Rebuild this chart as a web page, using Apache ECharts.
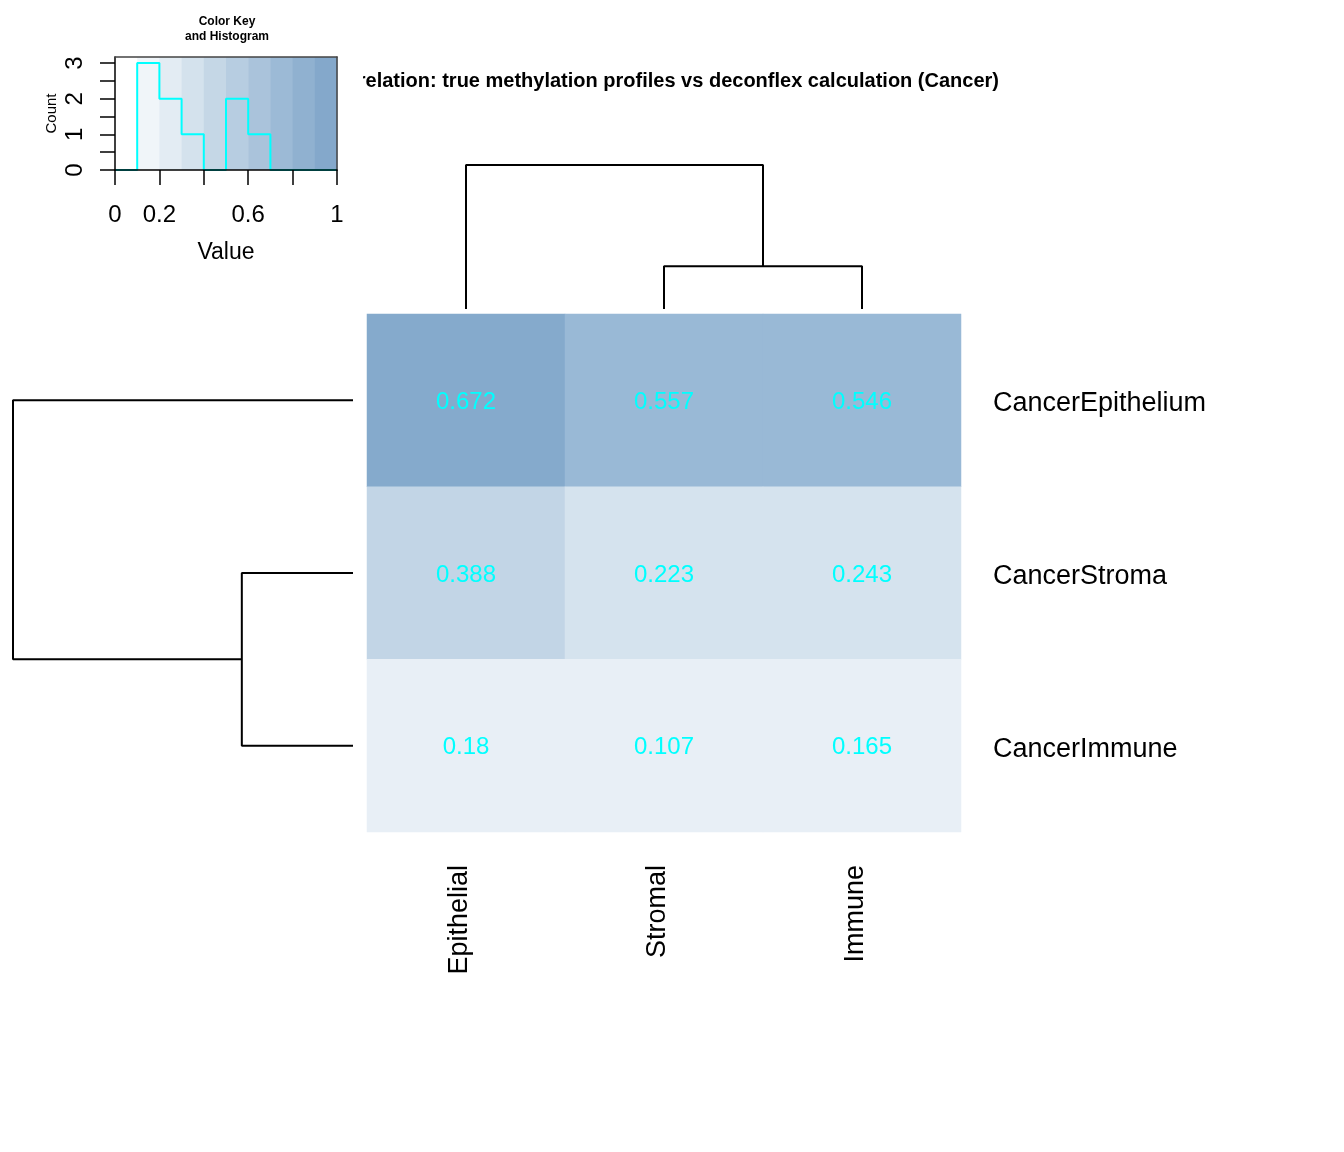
<!DOCTYPE html>
<html>
<head>
<meta charset="utf-8">
<script src="https://cdn.jsdelivr.net/npm/echarts@6/dist/echarts.min.js"></script>
<style>
  html, body { margin: 0; padding: 0; background: #fff; }
  #chart { width: 1344px; height: 1152px; }
</style>
</head>
<body>
<div id="chart"></div>
<script>
var FONT = '"Liberation Sans", Arial, Helvetica, sans-serif';

// heatmap values, one array per row
var rowNames = ['CancerEpithelium', 'CancerStroma', 'CancerImmune'];
var colNames = ['Epithelial', 'Stromal', 'Immune'];
var corEpithelium = [0.672, 0.557, 0.546];
var corStroma = [0.388, 0.223, 0.243];
var corImmune = [0.18, 0.107, 0.165];

// dendrograms, hclust style (negative = leaf), heights relative to root
var colMerge = [[-2, -3], [-1, 1]];
var colHeight = [0.297, 1];
var rowMerge = [[-2, -3], [-1, 1]];
var rowHeight = [0.327, 1];

// color key + histogram
var keyBreaks = [0, 0.1, 0.2, 0.3, 0.4, 0.5, 0.6, 0.7, 0.8, 0.9, 1];
var keyColors = ['#FFFFFF', '#F0F5F9', '#E3ECF3', '#D4E2ED', '#C5D7E6',
                 '#B7CDE1', '#AAC3DB', '#9CBAD6', '#90B1D0', '#84A8CB'];
var keyCounts = [0, 3, 2, 1, 0, 2, 1, 0, 0, 0];
var keyXTicks = [0, 0.2, 0.4, 0.6, 0.8, 1];
var keyXLabels = [0, 0.2, 0.6, 1];
var keyYTicks = [0, 0.5, 1, 1.5, 2, 2.5, 3];
var keyYLabels = [0, 1, 2, 3];

var chart = echarts.init(document.getElementById('chart'));

var rows = [corEpithelium, corStroma, corImmune];
var heatData = [];
rows.forEach(function (r, i) {
  r.forEach(function (v, j) {
    heatData.push([j, i, v]);
  });
});

function dendroLines(merge, height) {
  var node = [];
  var lines = [];
  merge.forEach(function (m, k) {
    var kids = m.map(function (c) {
      return c < 0 ? { pos: -c - 0.5, h: 0 } : node[c - 1];
    });
    var hk = height[k];
    lines.push([[kids[0].pos, kids[0].h], [kids[0].pos, hk], [kids[1].pos, hk], [kids[1].pos, kids[1].h]]);
    node.push({ pos: (kids[0].pos + kids[1].pos) / 2, h: hk });
  });
  return lines;
}

var series = [];

series.push({
  type: 'heatmap',
  xAxisIndex: 0,
  yAxisIndex: 0,
  data: heatData,
  itemStyle: { borderWidth: 0 },
  label: {
    show: true,
    color: '#00FFFF',
    fontSize: 24,
    fontFamily: FONT,
    offset: [0, 2],
    formatter: function (p) { return String(p.value[2]); }
  },
  emphasis: { disabled: true }
});

dendroLines(colMerge, colHeight).forEach(function (pts) {
  series.push({
    type: 'line', xAxisIndex: 1, yAxisIndex: 1, data: pts,
    symbol: 'none', clip: false, silent: true,
    lineStyle: { color: '#000', width: 2 }
  });
});

dendroLines(rowMerge, rowHeight).forEach(function (pts) {
  series.push({
    type: 'line', xAxisIndex: 2, yAxisIndex: 2,
    data: pts.map(function (p) { return [p[1], p[0]]; }),
    symbol: 'none', clip: false, silent: true,
    lineStyle: { color: '#000', width: 2 }
  });
});

// key colour bands
var bandData = keyColors.map(function (c, i) { return [keyBreaks[i], keyBreaks[i + 1], i]; });
series.push({
  type: 'custom',
  xAxisIndex: 3,
  yAxisIndex: 3,
  data: bandData,
  silent: true,
  renderItem: function (params, api) {
    var p0 = api.coord([api.value(0), 0]);
    var p1 = api.coord([api.value(1), 3.17]);
    return {
      type: 'rect',
      shape: { x: p0[0], y: p1[1], width: p1[0] - p0[0] + 0.5, height: p0[1] - p1[1] },
      style: { fill: keyColors[api.value(2)] }
    };
  }
});

// histogram step line
var histData = keyCounts.map(function (c, i) { return [keyBreaks[i], c]; });
histData.push([1, 0]);
series.push({
  type: 'line',
  xAxisIndex: 3,
  yAxisIndex: 3,
  data: histData,
  step: 'end',
  symbol: 'none',
  clip: false,
  silent: true,
  z: 5,
  lineStyle: { color: '#00FFFF', width: 2 }
});

var hidden = { show: false };

var option = {
  backgroundColor: '#fff',
  animation: false,
  textStyle: { fontFamily: FONT },
  grid: [
    { left: 367, top: 314, width: 594, height: 518, outerBoundsMode: 'none' },
    { left: 367, top: 165, width: 594, height: 144, outerBoundsMode: 'none' },
    { left: 13, top: 314, width: 340, height: 518, outerBoundsMode: 'none' },
    { left: 115, top: 57, width: 222, height: 113, outerBoundsMode: 'none' }
  ],
  xAxis: [
    {
      type: 'category', gridIndex: 0, data: colNames, position: 'bottom',
      axisLine: hidden, axisTick: hidden, splitLine: hidden,
      axisLabel: {
        rotate: 90, color: '#000', margin: 33,
        formatter: function (v) { return '{c|' + v + '}'; },
        rich: { c: { fontSize: 27, fontFamily: FONT, color: '#000', padding: [0, 0, 13, 0] } }
      }
    },
    { type: 'value', gridIndex: 1, min: 0, max: 3, show: false },
    { type: 'value', gridIndex: 2, min: 0, max: 1, inverse: true, show: false },
    {
      type: 'value', gridIndex: 3, min: 0, max: 1, z: 10,
      name: 'Value', nameLocation: 'middle', nameGap: 71,
      nameTextStyle: { fontSize: 23, color: '#000', fontFamily: FONT },
      axisLine: { show: true, onZero: false, lineStyle: { color: '#000', width: 1.5 } },
      axisTick: { show: true, length: 15, customValues: keyXTicks, lineStyle: { color: '#000', width: 1.5 } },
      axisLabel: { fontSize: 24, color: '#000', margin: 33, customValues: keyXLabels, fontFamily: FONT,
                   formatter: function (v) { return String(v); } },
      splitLine: hidden
    },
    {
      type: 'value', gridIndex: 3, min: 0, max: 1, position: 'top', z: 10,
      axisLine: { show: true, onZero: false, lineStyle: { color: '#444', width: 1.5 } },
      axisTick: hidden, axisLabel: hidden, splitLine: hidden
    }
  ],
  yAxis: [
    {
      type: 'category', gridIndex: 0, data: rowNames, inverse: true, position: 'right',
      axisLine: hidden, axisTick: hidden, splitLine: hidden,
      axisLabel: {
        color: '#000', margin: 32,
        formatter: function (v) { return '{r|' + v + '}'; },
        rich: { r: { fontSize: 27, fontFamily: FONT, color: '#000', padding: [7, 0, 0, 0] } }
      }
    },
    { type: 'value', gridIndex: 1, min: 0, max: 1, show: false },
    { type: 'value', gridIndex: 2, min: 0, max: 3, inverse: true, show: false },
    {
      type: 'value', gridIndex: 3, min: 0, max: 3.17, z: 10,
      name: 'Count', nameLocation: 'middle', nameGap: 56, nameRotate: 90,
      nameTextStyle: { fontSize: 15, color: '#000', fontFamily: FONT },
      axisLine: { show: true, onZero: false, lineStyle: { color: '#000', width: 1.5 } },
      axisTick: { show: true, length: 15, customValues: keyYTicks, lineStyle: { color: '#000', width: 1.5 } },
      axisLabel: { rotate: 90, fontSize: 24, color: '#000', margin: 28, customValues: keyYLabels, fontFamily: FONT },
      splitLine: hidden
    },
    {
      type: 'value', gridIndex: 3, min: 0, max: 3.17, position: 'right', z: 10,
      axisLine: { show: true, onZero: false, lineStyle: { color: '#444', width: 1.5 } },
      axisTick: hidden, axisLabel: hidden, splitLine: hidden
    }
  ],
  visualMap: {
    type: 'piecewise',
    show: false,
    seriesIndex: 0,
    pieces: [
      { lt: 0.2, color: '#E8EFF6' },
      { gte: 0.2, lt: 0.3, color: '#D5E3EE' },
      { gte: 0.3, lt: 0.45, color: '#C2D5E6' },
      { gte: 0.45, lt: 0.6, color: '#99B9D6' },
      { gte: 0.6, color: '#85AACC' }
    ]
  },
  graphic: [
    {
      type: 'text', x: 999, y: 81, z: 0,
      style: {
        text: 'Correlation: true methylation profiles vs deconflex calculation (Cancer)',
        align: 'right', verticalAlign: 'middle',
        font: 'bold 20px ' + FONT, fill: '#000'
      }
    },
    { type: 'rect', x: 338, y: 60, z: 1, shape: { width: 25, height: 40 }, style: { fill: '#fff' } },
    {
      type: 'text', x: 227, y: 29.5, z: 1,
      style: {
        text: 'Color Key\nand Histogram', align: 'center', verticalAlign: 'middle',
        font: 'bold 12px ' + FONT, lineHeight: 15, fill: '#000'
      }
    }
  ],
  series: series
};

chart.setOption(option);
</script>
</body>
</html>
